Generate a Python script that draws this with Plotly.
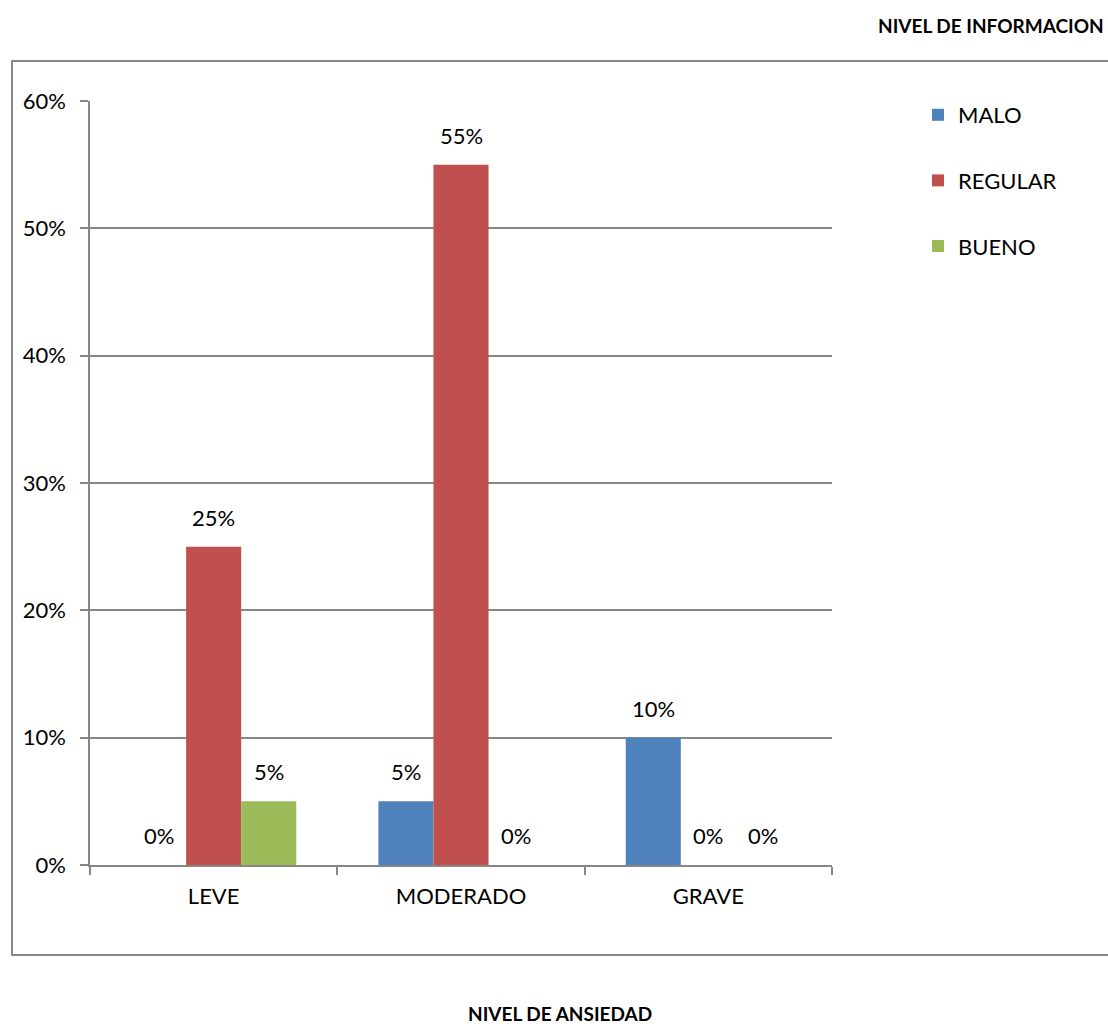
import plotly.graph_objects as go

categories = ["LEVE", "MODERADO", "GRAVE"]
series_names = ["MALO", "REGULAR", "BUENO"]
malo = [0.0, 0.05, 0.10]
regular = [0.25, 0.55, 0.0]
bueno = [0.05, 0.0, 0.0]
colors = ["#4F81BD", "#C0504D", "#9BBB59"]
y_ticks = [0, 0.1, 0.2, 0.3, 0.4, 0.5, 0.6]
y_labels = ["0%", "10%", "20%", "30%", "40%", "50%", "60%"]

FONT = "Lato, 'Open Sans', sans-serif"
FS = 22

W, H = 1108, 1024
L, R, T, B = 90, 832, 101, 865
pw, ph = R - L, B - T
BARGAP = 0.332

def px(x):
    return (x - L) / pw

def py(y):
    return (B - y) / ph

fig = go.Figure()
all_vals = [malo, regular, bueno]
for i, (name, vals) in enumerate(zip(series_names, all_vals)):
    fig.add_trace(go.Bar(
        x=categories, y=vals, name=name,
        marker=dict(color=colors[i], line=dict(width=0)),
        legendgroup=name,
    ))

# data labels above bars
cat_w = pw / len(categories)
bar_w = cat_w * (1 - BARGAP) / len(series_names)
annotations = []
for i, vals in enumerate(all_vals):
    off = (i - (len(series_names) - 1) / 2) * bar_w
    for c, v in zip(categories, vals):
        annotations.append(dict(
            x=c, y=v, xref="x", yref="y", text=f"{round(v*100)}%",
            showarrow=False, xanchor="center", yanchor="bottom",
            xshift=off, yshift=14,
            font=dict(size=FS, family=FONT, color="#000000")))

annotations += [
    dict(text="<b>NIVEL DE INFORMACION</b>", xref="paper", yref="paper",
         x=px(1106), y=py(25), xanchor="right", yanchor="middle",
         showarrow=False, font=dict(size=19, family=FONT, color="#000000")),
    dict(text="<b>NIVEL DE ANSIEDAD</b>", xref="paper", yref="paper",
         x=px(560), y=py(1013), xanchor="center", yanchor="middle",
         showarrow=False, font=dict(size=19, family=FONT, color="#000000")),
]

fig.update_layout(
    width=W, height=H,
    margin=dict(l=L, r=W - R, t=T, b=H - B),
    paper_bgcolor="white", plot_bgcolor="white",
    barmode="group", bargap=BARGAP, bargroupgap=0,
    font=dict(family=FONT, size=FS, color="#000000"),
    showlegend=True,
    legend=dict(x=px(918), y=py(94), xanchor="left", yanchor="top",
                font=dict(size=FS, family=FONT), traceorder="grouped",
                tracegroupgap=34, itemwidth=30, bgcolor="rgba(0,0,0,0)"),
    xaxis=dict(showline=True, linecolor="#878787", linewidth=1.5,
               ticks="outside", tickson="boundaries", ticklen=8, tickcolor="#878787",
               tickwidth=1.5, showgrid=False, tickfont=dict(size=FS, family=FONT),
               ticklabelstandoff=11),
    yaxis=dict(range=[0, 0.6], tickvals=y_ticks, ticktext=y_labels,
               showline=True, linecolor="#878787", linewidth=1.5,
               ticks="outside", ticklen=8, tickcolor="#878787", tickwidth=1.5,
               showgrid=True, gridcolor="#878787", gridwidth=1.5,
               zeroline=False, tickfont=dict(size=FS, family=FONT),
               ticklabelstandoff=10),
    shapes=[dict(type="rect", xref="paper", yref="paper",
                 x0=px(12), x1=px(1112), y0=py(955), y1=py(61),
                 line=dict(color="#878787", width=2), fillcolor="rgba(0,0,0,0)",
                 layer="below")],
    annotations=annotations,
)

fig.write_html("out.html")
